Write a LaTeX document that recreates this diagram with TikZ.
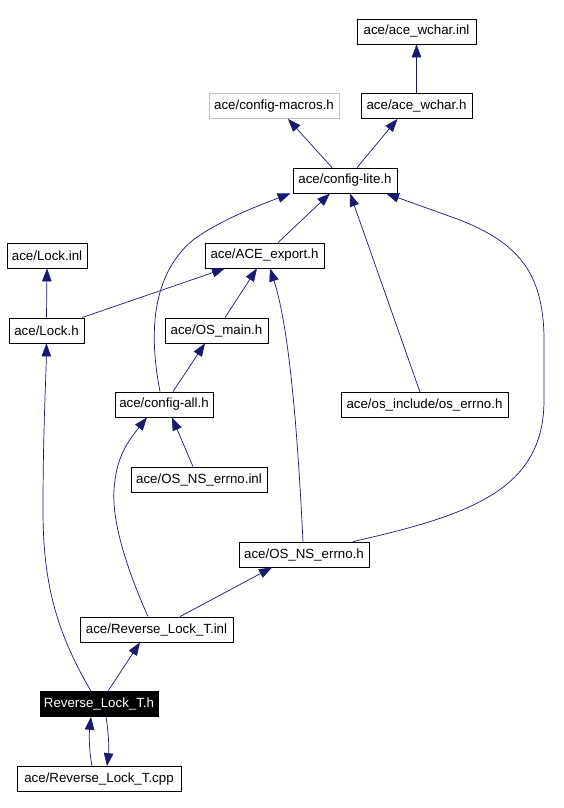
\documentclass[tikz,border=0pt]{standalone}
\usepackage{fontspec}
\setmainfont{Liberation Sans}
\usetikzlibrary{arrows.meta}
\definecolor{edgeblue}{HTML}{191970}
\definecolor{graybox}{HTML}{BFBFBF}
\tikzset{
  fbox/.style={draw=black, fill=white, line width=0.8pt, inner sep=0pt, minimum height=25pt, font=\fontsize{13.3}{15}\selectfont},
  ghost/.style={fbox, draw=graybox},
  cur/.style={fbox, fill=black, text=white},
  edge/.style={draw=edgeblue, line width=0.7pt, -{Triangle[length=13pt,width=9.5pt]}},
}
\begin{document}
\begin{tikzpicture}[x=1pt,y=-1pt]
\useasboundingbox[fill=white] (0,0) rectangle (564,808);
% nodes
\node[fbox, minimum width=119pt] (wcharinl) at (416.5,31.5) {ace/ace\_wchar.inl};
\node[fbox, minimum width=111pt] (wcharh) at (416.5,106) {ace/ace\_wchar.h};
\node[ghost, minimum width=130pt] (macros) at (274,106) {ace/config-macros.h};
\node[fbox, minimum width=104pt] (lite) at (345,180.5) {ace/config-lite.h};
\node[fbox, minimum width=80pt] (lockinl) at (47,255.5) {ace/Lock.inl};
\node[fbox, minimum width=119pt] (export) at (264.5,255.5) {ace/ACE\_export.h};
\node[fbox, minimum width=75pt] (lockh) at (46.5,330.5) {ace/Lock.h};
\node[fbox, minimum width=103pt] (osmain) at (216.5,330.5) {ace/OS\_main.h};
\node[fbox, minimum width=98pt] (configall) at (164,404.5) {ace/config-all.h};
\node[fbox, minimum width=167pt] (oserrno) at (424.5,405) {ace/os\_include/os\_errno.h};
\node[fbox, minimum width=136pt] (nsinl) at (199,479.5) {ace/OS\_NS\_errno.inl};
\node[fbox, minimum width=130pt] (nsh) at (304,554.5) {ace/OS\_NS\_errno.h};
\node[fbox, minimum width=153pt] (rlinl) at (156.5,629.5) {ace/Reverse\_Lock\_T.inl};
\node[cur, minimum width=118pt] (rlh) at (99,704) {Reverse\_Lock\_T.h};
\node[fbox, minimum width=164pt] (rlcpp) at (99,779) {ace/Reverse\_Lock\_T.cpp};
% edges
\draw[edge] (wcharh.north) -- (wcharinl.south);
\draw[edge] ([xshift=-13pt]lite.north) -- ([xshift=14pt]macros.south);
\draw[edge] ([xshift=12pt]lite.north) -- ([xshift=-19pt]wcharh.south);
\draw[edge] ([xshift=13.5pt]export.north) -- ([xshift=-15pt]lite.south);
\draw[edge] ([xshift=-4pt]configall.north) .. controls (152,350) and (145,280) .. (193,240)
   .. controls (220,220) and (260,205) .. ([xshift=-2pt]lite.south west);
\draw[edge] ([xshift=-4.5pt]oserrno.north) -- ([xshift=5pt]lite.south);
\draw[edge] ([xshift=49pt]nsh.north) .. controls (470,515) and (544,490) .. (544,400)
   -- (544,340) .. controls (544,270) and (515,242) .. (460,220) -- ([xshift=41pt]lite.south);
\draw[edge] (lockh.north) -- (lockinl.south);
\draw[edge] ([xshift=35.5pt]lockh.north) -- ([xshift=-39.5pt]export.south);
\draw[edge] ([xshift=8.5pt]osmain.north) -- ([xshift=-7.5pt]export.south);
\draw[edge] ([xshift=-1pt]nsh.north) .. controls (298,440) and (290,330) .. ([xshift=5.5pt]export.south);
\draw[edge] ([xshift=9pt]configall.north) -- ([xshift=-11.5pt]osmain.south);
\draw[edge] ([xshift=-6pt]nsinl.north) -- ([xshift=8pt]configall.south);
\draw[edge] ([xshift=-8.5pt]rlinl.north) .. controls (125,565) and (112,520) .. (114,490)
   .. controls (116,460) and (125,445) .. ([xshift=-17pt]configall.south);
\draw[edge] ([xshift=23.5pt]rlinl.north) -- ([xshift=-32pt]nsh.south);
\draw[edge] ([xshift=-8pt]rlh.north) .. controls (55,630) and (43,580) .. (43,510)
   .. controls (43,430) and (46,380) .. (lockh.south);
\draw[edge] ([xshift=9pt]rlh.north) -- ([xshift=-16.5pt]rlinl.south);
\draw[edge] ([xshift=-7pt]rlcpp.north) .. controls (89,750) and (89,735) .. ([xshift=-8pt]rlh.south);
\draw[edge] ([xshift=7pt]rlh.south) .. controls (109,735) and (109,750) .. ([xshift=8pt]rlcpp.north);
\end{tikzpicture}
\end{document}
